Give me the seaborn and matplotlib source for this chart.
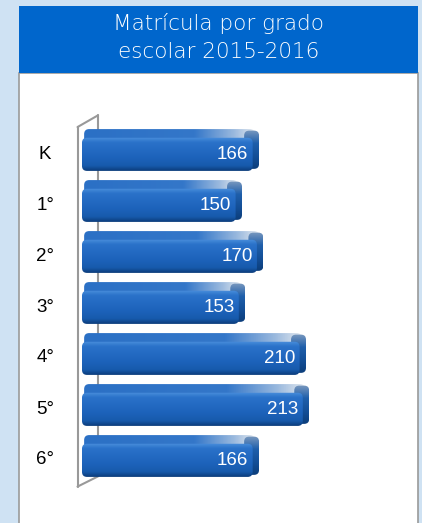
import numpy as np
import pandas as pd
import matplotlib
matplotlib.use("Agg")
import matplotlib.pyplot as plt
import seaborn as sns
from matplotlib.patches import Rectangle, FancyBboxPatch
from matplotlib.colors import LinearSegmentedColormap
from matplotlib.transforms import ScaledTranslation

# Data
grades = ["K", "1°", "2°", "3°", "4°", "5°", "6°"]
enrollment = [166, 150, 170, 153, 210, 213, 166]
title = "Matrícula por grado\nescolar 2015-2016"

df = pd.DataFrame({"grado": grades, "matricula": enrollment})

sns.set_theme(style="white")
plt.rcParams['font.family'] = ['Liberation Sans', 'DejaVu Sans']

W, H = 422, 523
fig = plt.figure(figsize=(W / 100, H / 100), dpi=100)
fig.patch.set_facecolor('#cfe2f3')

# White panel and blue title box
fig.add_artist(Rectangle((19 / W, -0.01), 399 / W, (H - 73) / H + 0.01,
                         transform=fig.transFigure, facecolor='white',
                         edgecolor='#9a9a9a', lw=1.2, zorder=0))
fig.add_artist(Rectangle((19 / W, 1 - 73 / H), 399 / W, 67 / H,
                         transform=fig.transFigure, facecolor='#0066cc',
                         edgecolor='none', zorder=1))
fig.text((19 + 418) / 2 / W, 1 - 38 / H, title, ha='center', va='center',
         color='white', fontsize=15.5, family=['DejaVu Sans'],
         fontweight='light', linespacing=1.5, zorder=5)

# Plot axes: bar origin at x=82px, 1 unit ~ 1.067 px; 51 px per category
ax = fig.add_axes([82 / W, 1 - 507 / H, 320 / W, 408 / H])
ax.set_facecolor('none')

sns.barplot(data=df, y="grado", x="matricula", orient="h", ax=ax,
            color='#1f66bf', width=0.82, saturation=1)
n = len(grades)
ax.set_xlim(0, 300)
ax.set_ylim(n, -1)

# Back wall of the 3D chart
wall = dict(color='#999999', lw=1.5, clip_on=False, zorder=2.1)
ax.plot([-4.2, -4.2], [n - 0.4, -0.45], **wall)
ax.plot([15, 15], [-0.68, n - 0.6], **wall)
ax.plot([-4.2, 15], [-0.45, -0.68], **wall)
ax.plot([-4.2, 15], [n - 0.4, n - 0.6], **wall)

# Gradient fill for the bars (pseudo 3D look)
bar_cmap = LinearSegmentedColormap.from_list(
    "bar", [(0, "#4a8fdc"), (0.15, "#2a72c9"), (0.6, "#1d63bb"),
            (0.85, "#175aac"), (1, "#0c3d7c")])
top_cmap = LinearSegmentedColormap.from_list(
    "top", [(0, "#2b70c5"), (0.65, "#3477c9"), (0.88, "#9ab9de"), (1, "#dfe6ee")])
cap_cmap = LinearSegmentedColormap.from_list(
    "cap", ["#7f9cc0", "#1f5fab", "#134e96", "#0b3b76"])
grad_v = np.linspace(0, 1, 64).reshape(-1, 1)
grad_h = np.linspace(0, 1, 128).reshape(1, -1)

rx = 4.7                 # corner radius in x data units (~5 px)
asp = (5 / 51) / rx      # converts that radius to y data units


def rbox(x, y, w, h, **kw):
    return FancyBboxPatch((x, y), w, h,
                          boxstyle=f"round,pad=0,rounding_size={rx}",
                          mutation_aspect=asp, facecolor='none',
                          edgecolor='none', **kw)


def fill(patch, grad, cmap, extent, z):
    patch.set_zorder(z)
    ax.add_patch(patch)
    im = ax.imshow(grad, cmap=cmap, aspect='auto', extent=extent, zorder=z)
    im.set_clip_path(patch)


for p in list(ax.patches):
    if not isinstance(p, Rectangle):
        continue
    x0, y0 = p.get_x(), p.get_y()
    w, h = p.get_width(), p.get_height()
    p.set_visible(False)
    th = 0.17
    # top face (sheen toward the right end)
    fill(rbox(x0 + 2, y0, w - 6, th + 0.12), grad_h, top_cmap,
         (x0 + 2, x0 + w - 4, y0 + th + 0.12, y0), 2.2)
    # right end cap
    fill(rbox(x0 + w - 14, y0 + 0.03, 14, h - 0.07), grad_v, cap_cmap,
         (x0 + w - 14, x0 + w, y0 + h, y0), 2.3)
    # front face
    fill(rbox(x0, y0 + th, w - 6, h - th), grad_v, bar_cmap,
         (x0, x0 + w - 6, y0 + h, y0 + th), 2.5)

# Value labels inside the bars
for i, v in enumerate(enrollment):
    ax.text(v - 10, i + 0.08, str(v), ha='right', va='center',
            color='white', fontsize=13.5, zorder=3)

ax.set_xlabel("")
ax.set_ylabel("")
ax.set_xticks([])
ax.set_yticks(range(n))
ax.set_yticklabels(grades, ha='center', va='center')
ax.tick_params(axis='y', length=0, pad=26.5, labelsize=13.5, labelcolor='black')
# nudge labels to the centre of the front face
offset = ScaledTranslation(0, -4 / 100, fig.dpi_scale_trans)
for t in ax.get_yticklabels():
    t.set_transform(t.get_transform() + offset)
sns.despine(ax=ax, left=True, bottom=True)

fig.savefig("out.png", dpi=100, facecolor=fig.get_facecolor())
